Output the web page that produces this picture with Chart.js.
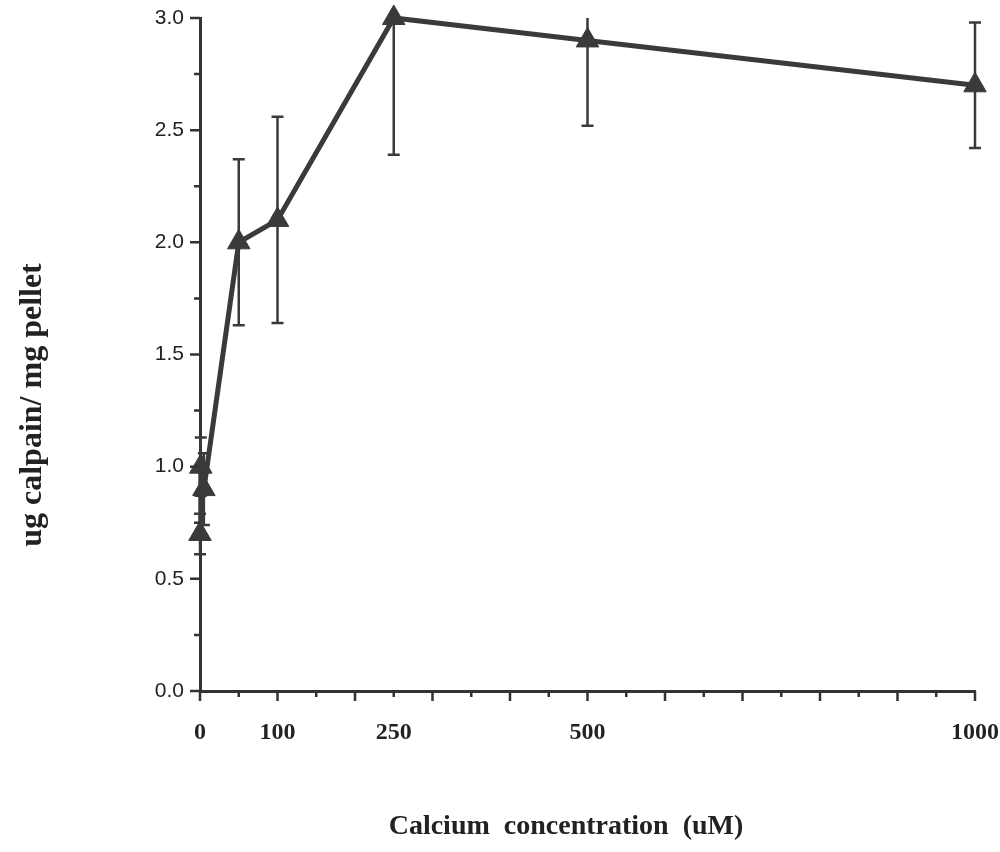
<!DOCTYPE html>
<html>
<head>
<meta charset="utf-8">
<script src="https://cdn.jsdelivr.net/npm/chart.js@4.4.1/dist/chart.umd.min.js"></script>
<style>
  html, body { margin: 0; padding: 0; background: #fff; }
  #wrap { width: 1000px; height: 852px; position: relative; }
</style>
</head>
<body>
<div id="wrap"><canvas id="chart"></canvas></div>
<script>
// calcium concentration (uM) and bound calpain (ug / mg pellet), mean +/- error
const concentrations = [0, 1, 5, 50, 100, 250, 500, 1000];
const calpain = [0.7, 1.0, 0.9, 2.0, 2.1, 3.0, 2.9, 2.7];
const calpainErr = [0.09, 0.13, 0.16, 0.37, 0.46, 0.61, 0.38, 0.28];

// only these concentrations get a label under the axis
const xLabelValues = [0, 100, 250, 500, 1000];

const xTitle = 'Calcium  concentration  (uM)';
const yTitle = 'ug calpain/ mg pellet';

const INK = '#3a3a3a';
const AXIS = '#333';
const TEXT = '#222';

// vertical error bars with caps, clipped at the top of the plot
const errorBars = {
  id: 'errorBars',
  beforeDatasetsDraw(chart) {
    const { ctx, chartArea, scales: { x, y } } = chart;
    ctx.save();
    ctx.beginPath();
    ctx.rect(chartArea.left - 30, chartArea.top, chartArea.width + 60, chartArea.height);
    ctx.clip();
    ctx.strokeStyle = INK;
    ctx.lineWidth = 2.5;
    ctx.beginPath();
    concentrations.forEach((c, i) => {
      const px = x.getPixelForValue(c);
      const hi = y.getPixelForValue(calpain[i] + calpainErr[i]);
      const lo = y.getPixelForValue(calpain[i] - calpainErr[i]);
      ctx.moveTo(px, hi);
      ctx.lineTo(px, lo);
      ctx.moveTo(px - 6, hi);
      ctx.lineTo(px + 6, hi);
      ctx.moveTo(px - 6, lo);
      ctx.lineTo(px + 6, lo);
    });
    ctx.stroke();
    ctx.restore();
  },
};

// outward tick marks: long ones on major steps, short ones between
const tickMarks = {
  id: 'tickMarks',
  afterDraw(chart) {
    const { ctx, chartArea, scales: { x, y } } = chart;
    ctx.save();
    ctx.strokeStyle = AXIS;
    ctx.lineWidth = 2.5;
    ctx.beginPath();
    x.ticks.forEach((t) => {
      const px = x.getPixelForValue(t.value);
      const len = t.value % 100 === 0 ? 10 : 6;
      ctx.moveTo(px, chartArea.bottom);
      ctx.lineTo(px, chartArea.bottom + len);
    });
    y.ticks.forEach((t) => {
      const py = y.getPixelForValue(t.value);
      const major = Math.abs(t.value * 2 - Math.round(t.value * 2)) < 1e-6;
      const len = major ? 10 : 6;
      ctx.moveTo(chartArea.left, py);
      ctx.lineTo(chartArea.left - len, py);
    });
    ctx.stroke();
    ctx.restore();
  },
};

// axis titles sit off-centre, so place them by hand
const axisTitles = {
  id: 'axisTitles',
  afterDraw(chart) {
    const { ctx } = chart;
    ctx.save();
    ctx.fillStyle = TEXT;
    ctx.textAlign = 'center';
    ctx.textBaseline = 'middle';
    ctx.font = 'bold 28px "Liberation Serif", serif';
    ctx.fillText(xTitle, 566, 827);
    ctx.translate(33, 405);
    ctx.rotate(-Math.PI / 2);
    ctx.font = 'bold 32px "Liberation Serif", serif';
    ctx.fillText(yTitle, 0, 0);
    ctx.restore();
  },
};

new Chart(document.getElementById('chart'), {
  type: 'line',
  data: {
    datasets: [
      {
        label: 'Calpain',
        data: concentrations.map((c, i) => ({ x: c, y: calpain[i] })),
        borderColor: INK,
        backgroundColor: INK,
        borderWidth: 5,
        pointStyle: 'triangle',
        pointRadius: 13,
        pointBorderWidth: 1,
        pointBorderColor: INK,
        pointBackgroundColor: INK,
        tension: 0,
        clip: false,
      },
    ],
  },
  options: {
    responsive: true,
    maintainAspectRatio: false,
    animation: false,
    layout: {
      padding: { top: 18, right: 25, bottom: 0, left: 0 },
    },
    plugins: {
      legend: { display: false },
      tooltip: { enabled: false },
    },
    scales: {
      x: {
        type: 'linear',
        min: 0,
        max: 1000,
        grid: { display: false, drawTicks: false },
        border: { display: true, color: AXIS, width: 3 },
        ticks: {
          stepSize: 50,
          autoSkip: false,
          maxRotation: 0,
          padding: 27,
          color: TEXT,
          font: { family: '"Liberation Serif", serif', size: 24, weight: 'bold' },
          callback: (v) => (xLabelValues.includes(v) ? String(v) : ''),
        },
        afterFit: (scale) => {
          scale.height = 161;
          // let the end labels hang past the plot instead of shrinking it
          scale.paddingLeft = 0;
          scale.paddingRight = 0;
        },
      },
      y: {
        min: 0,
        max: 3,
        grid: { display: false, drawTicks: false },
        border: { display: true, color: AXIS, width: 3 },
        ticks: {
          stepSize: 0.25,
          autoSkip: false,
          padding: 16,
          color: TEXT,
          font: { family: '"Liberation Sans", Arial, sans-serif', size: 21 },
          callback: (v) => (Math.abs(v * 2 - Math.round(v * 2)) < 1e-6 ? v.toFixed(1) : ''),
        },
        afterFit: (scale) => {
          scale.width = 200;
          scale.paddingTop = 0;
          scale.paddingBottom = 0;
        },
      },
    },
  },
  plugins: [errorBars, tickMarks, axisTitles],
});
</script>
</body>
</html>
